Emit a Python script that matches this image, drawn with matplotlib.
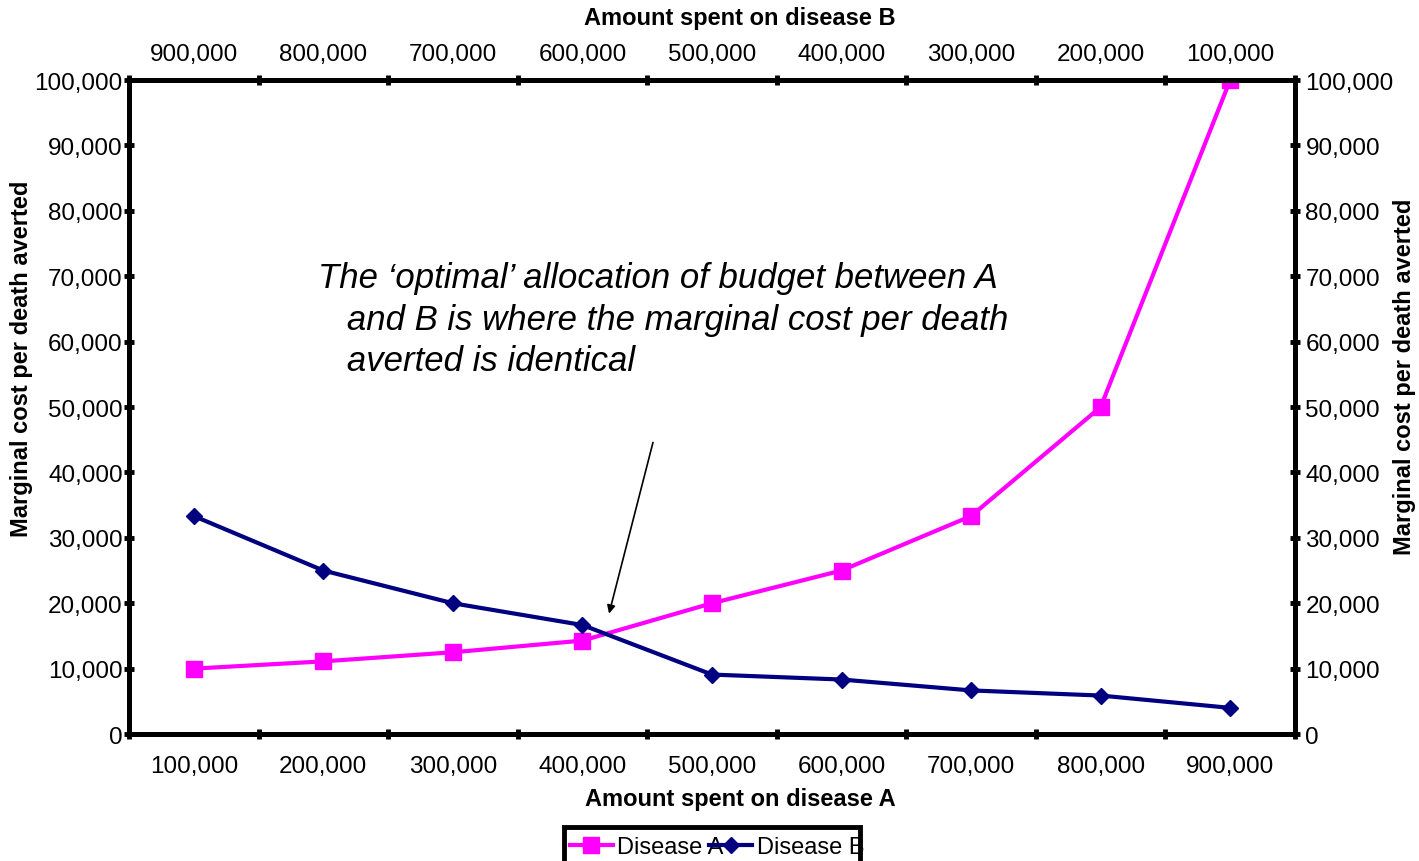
import numpy as np
import matplotlib.pyplot as plt
from matplotlib.patches import Rectangle

plt.rcParams['font.family'] = ['Liberation Sans', 'DejaVu Sans']

# Spending levels (bottom axis for A, top axis for B, which runs the other way)
spent_a = [100000, 200000, 300000, 400000, 500000, 600000, 700000, 800000, 900000]
spent_b = [900000, 800000, 700000, 600000, 500000, 400000, 300000, 200000, 100000]

# Marginal cost per death averted
cost_a = [10000, 11111, 12500, 14286, 20000, 25000, 33333, 50000, 100000]
cost_b = [33333, 25000, 20000, 16667, 9091, 8333, 6667, 5882, 4000]

y_ticks = np.arange(0, 100001, 10000)

W, H = 1419, 862
fig = plt.figure(figsize=(W / 100, H / 100), dpi=100)
ax = fig.add_axes([0.0909, 0.1473, 0.8217, 0.7587])

pos = np.arange(len(spent_a))
ax.plot(pos, cost_a, color='#FF00FF', lw=3, marker='s', ms=11, label='Disease A')
ax.plot(pos, cost_b, color='#000080', lw=3, marker='D', ms=8, label='Disease B')

ax.set_xlim(-0.5, len(pos) - 0.5)
ax.set_ylim(0, 100000)

def style_axis(a):
    for s in a.spines.values():
        s.set_linewidth(3.5)
    a.tick_params(which='major', direction='inout', length=7, width=3.5, labelsize=17.5)
    a.tick_params(which='minor', length=0, labelsize=17.5)

# x ticks sit between categories, labels in the middle
ax.set_xticks(np.arange(-0.5, len(pos)), labels=[])
ax.set_xticks(pos, labels=[f'{v:,}' for v in spent_a], minor=True)
ax.set_yticks(y_ticks, labels=[f'{v:,}' for v in y_ticks])
style_axis(ax)
ax.tick_params(axis='x', which='minor', pad=15)
ax.tick_params(axis='y', pad=1)
ax.set_xlabel('Amount spent on disease A', fontsize=17, fontweight='bold')
ax.xaxis.set_label_coords(0.524, -(799 - 735) / 654)
ax.xaxis.label.set_va('center')
ax.set_ylabel('Marginal cost per death averted', fontsize=17, fontweight='bold')
ax.yaxis.set_label_coords(-(129 - 22) / 1166, 0.575)
ax.yaxis.label.set_va('center')

top = ax.twiny()
top.set_xlim(ax.get_xlim())
top.set_xticks(np.arange(-0.5, len(pos)), labels=[])
top.set_xticks(pos, labels=[f'{v:,}' for v in spent_b], minor=True)
style_axis(top)
top.tick_params(axis='x', which='minor', pad=11)
top.set_xlabel('Amount spent on disease B', fontsize=17, fontweight='bold')
top.xaxis.set_label_coords(0.524, 1 + (81 - 18) / 654)
top.xaxis.label.set_va('center')

right = ax.twinx()
right.set_ylim(ax.get_ylim())
right.set_yticks(y_ticks, labels=[f'{v:,}' for v in y_ticks])
style_axis(right)
right.tick_params(axis='y', pad=4)
right.set_ylabel('Marginal cost per death averted', fontsize=17, fontweight='bold',
                 rotation=90)
right.yaxis.set_label_coords(1 + (1405 - 1295) / 1166, 0.547)
right.yaxis.label.set_va('center')

ax.text(0.96, 72300, 'The \u2018optimal\u2019 allocation of budget between A\n'
        '   and B is where the marginal cost per death\n'
        '   averted is identical',
        fontsize=25, style='italic', va='top', ha='left', linespacing=1.33)

ax.annotate('', xy=(3.2, 18000), xytext=(3.55, 45000),
            arrowprops=dict(arrowstyle='-|>', color='black', lw=1.2,
                            mutation_scale=12))

# legend box is a bit narrower than its entries and runs off the bottom edge
box = Rectangle((564 / W, -0.02), (860 - 564) / W, 0.02 + (H - 828) / H,
                transform=fig.transFigure, facecolor='white', edgecolor='black',
                lw=3.5, zorder=4)
fig.patches.append(box)
leg = fig.legend(loc='upper left', bbox_to_anchor=(570 / W, 1 - 837 / H), ncol=2,
                 fontsize=17, frameon=False, handlelength=1.8, handletextpad=0.2,
                 columnspacing=-0.6, borderpad=0, borderaxespad=0)
leg.set_zorder(5)

fig.savefig('out.png', dpi=100)
